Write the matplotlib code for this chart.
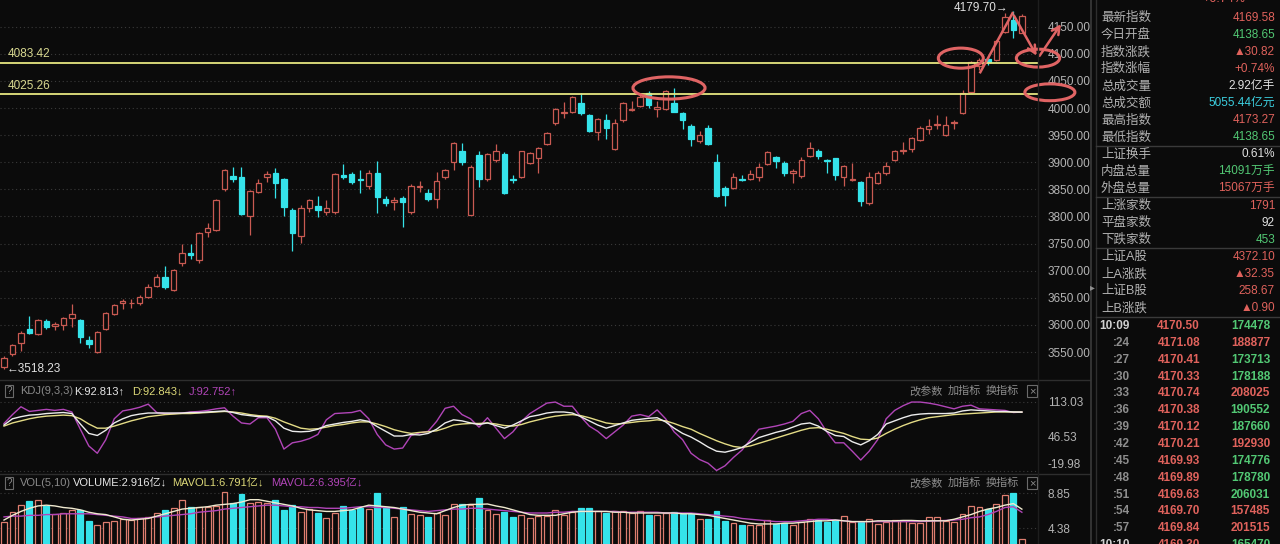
# ============================================================
# SSE index daily K-line screenshot: candles, KDJ, VOL, quote panel
# ============================================================

import numpy as np
import matplotlib
matplotlib.use("Agg")
import matplotlib.pyplot as plt
from matplotlib.patches import Ellipse, FancyArrowPatch
from matplotlib.transforms import blended_transform_factory

plt.rcParams["font.family"] = ["Liberation Sans", "Noto Sans CJK SC", "DejaVu Sans"]

# ============================================================
# DATA
# ============================================================

opens = [3522, 3546, 3566, 3593, 3583, 3608, 3598, 3599, 3613, 3609,
         3572, 3550, 3592, 3620, 3641, 3640, 3640, 3651, 3672, 3688,
         3665, 3715, 3733, 3720, 3772, 3775, 3851, 3875, 3872, 3800,
         3846, 3872, 3881, 3869, 3811, 3764, 3816, 3819, 3809, 3809,
         3876, 3878, 3870, 3856, 3880, 3833, 3826, 3834, 3808, 3854,
         3843, 3832, 3872, 3901, 3920, 3803, 3913, 3870, 3904, 3915,
         3870, 3873, 3899, 3907, 3934, 3972, 3990, 3992, 4010, 3987,
         3956, 3977, 3924, 3977, 3996, 4004, 4027, 3999, 3999, 4010,
         3991, 3966, 3940, 3964, 3901, 3852, 3852, 3870, 3869, 3873,
         3897, 3910, 3898, 3880, 3875, 3911, 3921, 3904, 3907, 3872,
         3868, 3864, 3824, 3861, 3881, 3904, 3920, 3924, 3941, 3961,
         3968, 3950, 3972, 3990, 4030, 4078, 4090, 4089, 4141, 4162,
         4138.65]

highs = [3542, 3565, 3589, 3616, 3611, 3610, 3605, 3615, 3638, 3611,
         3580, 3588, 3623, 3638, 3647, 3647, 3656, 3675, 3693, 3709,
         3703, 3749, 3750, 3771, 3788, 3832, 3888, 3891, 3891, 3849,
         3870, 3883, 3889, 3871, 3815, 3821, 3833, 3838, 3830, 3880,
         3897, 3882, 3886, 3886, 3903, 3838, 3836, 3838, 3860, 3866,
         3851, 3882, 3888, 3938, 3936, 3894, 3921, 3917, 3934, 3919,
         3876, 3921, 3919, 3928, 3955, 4000, 4012, 4022, 4027, 3989,
         3981, 3989, 3979, 4012, 4013, 4028, 4031, 4013, 4034, 4036,
         3993, 3971, 3957, 3969, 3915, 3857, 3880, 3876, 3886, 3899,
         3920, 3912, 3903, 3888, 3910, 3938, 3924, 3906, 3908, 3895,
         3899, 3866, 3882, 3884, 3901, 3923, 3938, 3947, 3966, 3979,
         3987, 3985, 3978, 4033, 4087, 4092, 4094, 4126, 4175, 4179.70,
         4173.27]

lows = [3518.23, 3543, 3552, 3584, 3582, 3592, 3591, 3591, 3597, 3567,
        3558, 3548, 3590, 3618, 3630, 3632, 3636, 3649, 3670, 3666,
        3663, 3708, 3722, 3715, 3762, 3773, 3847, 3864, 3802, 3766,
        3843, 3864, 3834, 3800, 3737, 3751, 3808, 3799, 3803, 3805,
        3870, 3860, 3843, 3850, 3806, 3820, 3811, 3780, 3805, 3846,
        3828, 3816, 3869, 3886, 3895, 3802, 3854, 3866, 3901, 3841,
        3862, 3871, 3897, 3881, 3932, 3968, 3981, 3990, 3988, 3956,
        3941, 3942, 3922, 3975, 3995, 4002, 4000, 3984, 3997, 3993,
        3962, 3930, 3935, 3932, 3836, 3819, 3850, 3866, 3867, 3866,
        3895, 3890, 3874, 3862, 3871, 3909, 3906, 3881, 3867, 3856,
        3866, 3819, 3822, 3859, 3876, 3902, 3916, 3918, 3940, 3952,
        3962, 3949, 3962, 3989, 4028, 4070, 4080, 4086, 4138, 4130,
        4138.65]

closes = [3539, 3563, 3585, 3586, 3609, 3597, 3602, 3613, 3620, 3578,
          3565, 3587, 3622, 3637, 3644, 3641, 3652, 3670, 3689, 3669,
          3701, 3732, 3729, 3769, 3779, 3830, 3886, 3870, 3804, 3847,
          3862, 3878, 3862, 3818, 3770, 3816, 3830, 3811, 3816, 3878,
          3872, 3864, 3867, 3880, 3835, 3824, 3831, 3826, 3856, 3856,
          3832, 3866, 3886, 3936, 3901, 3892, 3870, 3915, 3920, 3844,
          3868, 3920, 3917, 3926, 3953, 3999, 3993, 4020, 3990, 3958,
          3979, 3964, 3972, 4010, 3999, 4021, 4006, 4002, 4032, 3993,
          3977, 3942, 3950, 3934, 3838, 3840, 3873, 3867, 3878, 3891,
          3918, 3903, 3881, 3883, 3905, 3927, 3911, 3902, 3876, 3893,
          3870, 3829, 3873, 3880, 3893, 3920, 3923, 3944, 3963, 3966,
          3970, 3969, 3974, 4028, 4085, 4088, 4084, 4124, 4168, 4143,
          4169.58]

# volume in 亿
volumes = [5.18, 6.46, 7.32, 7.83, 7.96, 7.19, 6.17, 6.33, 6.68, 6.68,
           5.27, 4.76, 5.18, 5.31, 5.49, 5.40, 5.62, 5.82, 6.33, 6.68,
           6.90, 7.96, 7.10, 7.10, 7.10, 7.19, 8.94, 7.53, 8.72, 7.61,
           7.74, 7.61, 7.96, 6.68, 7.32, 6.46, 6.77, 6.26, 5.62, 6.33,
           7.19, 6.68, 6.90, 6.77, 8.81, 7.10, 5.82, 7.10, 6.17, 6.04,
           5.82, 6.26, 6.04, 7.45, 7.45, 7.36, 8.21, 6.64, 6.17, 6.38,
           5.78, 6.08, 5.66, 5.87, 5.87, 6.64, 6.00, 6.38, 6.93, 6.93,
           6.51, 6.30, 6.59, 6.59, 6.30, 6.51, 6.08, 6.08, 6.30, 6.42,
           6.17, 6.17, 5.53, 5.57, 6.51, 5.23, 5.02, 4.80, 4.80, 4.80,
           5.44, 4.89, 5.02, 4.80, 5.15, 5.57, 5.44, 5.15, 5.36, 5.87,
           5.18, 5.18, 5.49, 4.89, 5.18, 5.40, 5.31, 5.05, 5.05, 5.75,
           5.82, 5.31, 5.18, 6.17, 7.19, 7.02, 6.77, 7.45, 8.59, 8.89,
           2.916]

mavol1 = [5.4, 6.0, 6.5, 6.9, 7.2, 7.3, 7.2, 7.0, 6.9, 6.7,
          6.4, 6.2, 6.1, 5.8, 5.5, 5.4, 5.5, 5.6, 5.9, 6.2,
          6.5, 6.8, 6.9, 7.0, 7.1, 7.3, 7.4, 7.5, 7.7, 8.0,
          8.0, 7.8, 7.6, 7.4, 7.2, 6.9, 6.7, 6.6, 6.5, 6.5,
          6.6, 6.7, 7.0, 7.3, 7.2, 7.1, 7.0, 6.8, 6.6, 6.4,
          6.3, 6.2, 6.6, 7.0, 7.3, 7.4, 7.4, 7.45, 7.2, 7.0,
          6.7, 6.4, 6.1, 6.0, 6.0, 6.0, 6.2, 6.4, 6.5, 6.5,
          6.5, 6.5, 6.4, 6.4, 6.3, 6.3, 6.3, 6.3, 6.3, 6.3,
          6.2, 6.2, 6.1, 6.0, 5.8, 5.6, 5.4, 5.2, 5.0, 4.9,
          4.9, 4.9, 5.0, 5.0, 5.1, 5.2, 5.3, 5.3, 5.4, 5.3,
          5.2, 5.2, 5.2, 5.3, 5.3, 5.3, 5.35, 5.35, 5.3, 5.3,
          5.3, 5.3, 5.5, 5.8, 6.1, 6.5, 6.8, 7.0, 7.3, 7.5,
          6.791]

mavol2 = [5.8, 5.9, 5.9, 6.0, 6.0, 6.1, 6.1, 6.2, 6.2, 6.2,
          6.2, 6.1, 6.0, 5.9, 5.8, 5.6, 5.6, 5.7, 5.8, 5.9,
          6.0, 6.1, 6.2, 6.4, 6.5, 6.6, 6.8, 6.9, 7.0, 7.1,
          7.2, 7.3, 7.3, 7.2, 7.1, 7.1, 7.0, 7.0, 6.9, 6.9,
          6.9, 7.0, 7.1, 7.1, 7.0, 7.0, 6.9, 6.8, 6.7, 6.6,
          6.5, 6.6, 6.7, 6.8, 6.8, 6.9, 6.9, 6.8, 6.7, 6.6,
          6.5, 6.4, 6.3, 6.3, 6.3, 6.4, 6.4, 6.5, 6.5, 6.5,
          6.5, 6.5, 6.5, 6.4, 6.4, 6.4, 6.4, 6.4, 6.3, 6.3,
          6.3, 6.3, 6.2, 6.1, 6.0, 5.9, 5.8, 5.6, 5.5, 5.4,
          5.3, 5.2, 5.2, 5.2, 5.3, 5.4, 5.5, 5.5, 5.4, 5.3,
          5.2, 5.2, 5.2, 5.2, 5.2, 5.2, 5.2, 5.2, 5.2, 5.25,
          5.3, 5.35, 5.4, 5.5, 5.7, 5.8, 6.1, 6.5, 7.0, 7.1,
          6.395]

kdj_k = [68, 80, 84, 87, 88, 90, 91, 92, 90, 70,
         52, 48, 58, 72, 80, 86, 89, 91, 91, 91,
         91, 91, 92, 92, 93, 94, 95, 92, 88, 86,
         84, 84, 76, 62, 56, 55, 56, 60, 67, 70,
         73, 75, 78, 75, 65, 56, 47, 47, 50, 49,
         52, 60, 72, 78, 76, 72, 69, 72, 67, 62,
         68, 76, 84, 87, 91, 93, 93, 91, 84, 76,
         68, 62, 67, 72, 77, 79, 81, 82, 74, 62,
         52, 45, 36, 26, 18, 16, 20, 25, 35, 44,
         49, 54, 58, 64, 70, 72, 66, 56, 48, 46,
         36, 30, 38, 50, 70, 76, 82, 87, 89, 90,
         90, 90, 91, 95, 97, 96, 95, 94, 94, 93,
         92.813]

kdj_d = [66, 72, 76, 80, 83, 85, 86, 87, 86, 80,
         70, 62, 62, 66, 71, 76, 80, 84, 86, 88,
         89, 90, 90, 91, 92, 93, 94, 93, 91, 88,
         86, 85, 81, 74, 68, 62, 60, 61, 64, 67,
         69, 72, 74, 74, 70, 65, 59, 55, 52, 54,
         55, 57, 62, 68, 70, 71, 71, 72, 70, 67,
         66, 69, 74, 78, 82, 85, 87, 88, 86, 82,
         77, 72, 70, 71, 73, 75, 76, 78, 76, 71,
         65, 60, 52, 45, 38, 32, 27, 25, 28, 33,
         38, 43, 48, 53, 58, 62, 63, 60, 56, 52,
         46, 41, 40, 43, 52, 60, 67, 73, 78, 82,
         84, 86, 88, 89, 90, 91, 92, 93, 93, 93,
         92.843]

kdj_j = [71, 88, 103, 94, 96, 98, 96, 98, 93, 60,
         28, 14, 40, 80, 95, 98, 102, 108, 92, 90,
         90, 91, 93, 94, 96, 99, 101, 85, 72, 70,
         82, 82, 60, 22, 34, 37, 42, 50, 78, 90,
         91, 92, 96, 80, 50, 30, 22, 24, 48, 53,
         56, 75, 100, 104, 88, 80, 64, 82, 62, 42,
         55, 75, 90, 100, 110, 112, 104, 104, 84, 66,
         56, 42, 55, 68, 85, 88, 84, 97, 80, 55,
         40, 14, 2, -5, -19, -10, 6, 20, 40, 60,
         63, 66, 70, 75, 90, 96, 80, 55, 34, 34,
         18, 1, 18, 40, 80, 96, 105, 112, 112, 110,
         107, 103, 99, 104, 106, 99, 98, 97, 96, 92,
         92.752]

price_ticks = [3550, 3600, 3650, 3700, 3750, 3800, 3850, 3900,
               3950, 4000, 4050, 4100, 4150]
kdj_ticks = [113.03, 46.53, -19.98]
vol_ticks = [8.85, 4.38]
key_levels = [4083.42, 4025.26]

info_labels = ["最新指数", "今日开盘", "指数涨跌", "指数涨幅", "总成交量", "总成交额",
               "最高指数", "最低指数", "上证换手", "内盘总量", "外盘总量", "上涨家数",
               "平盘家数", "下跌家数", "上证A股", "上A涨跌", "上证B股", "上B涨跌"]
info_values = ["4169.58", "4138.65", "▲30.82", "+0.74%", "2.92亿手", "5055.44亿元",
               "4173.27", "4138.65", "0.61%", "14091万手", "15067万手", "1791",
               "92", "453", "4372.10", "▲32.35", "258.67", "▲0.90"]
info_kind = ["r", "g", "r", "r", "w", "c", "r", "g", "w", "g", "r", "r",
             "w", "g", "r", "r", "r", "r"]

tick_times = ["10:09", ":24", ":27", ":30", ":33", ":36", ":39", ":42",
              ":45", ":48", ":51", ":54", ":57", "10:10"]
tick_prices = [4170.50, 4171.08, 4170.41, 4170.33, 4170.74, 4170.38, 4170.12,
               4170.21, 4169.93, 4169.89, 4169.63, 4169.70, 4169.84, 4169.30]
tick_vols = [174478, 188877, 173713, 178188, 208025, 190552, 187660,
             192930, 174776, 178780, 206031, 157485, 201515, 165470]
tick_kind = ["g", "r", "g", "g", "r", "g", "g", "r", "g", "g", "g", "r", "r", "g"]

# ============================================================
# STYLE
# ============================================================

W, H = 1280, 544
BG = "#0b0b0b"
RED = "#c95a52"
RED_VOL = "#df7e70"
CYAN = "#35e3ea"
YELLOW = "#e6e680"
MAGENTA = "#b145b8"
GRID = "#3a3a3a"
TICK = "#b4b4b4"
SEP = "#2e2e2e"
MARK = "#e06464"
TEXT_COLORS = {"r": "#e0625c", "g": "#52c874", "w": "#e2e2e2", "c": "#3ccfe0"}

fig = plt.figure(figsize=(W / 100, H / 100), dpi=100, facecolor=BG)


def px_axes(left, top, right, bottom):
    return fig.add_axes([left / W, 1 - bottom / H,
                         (right - left) / W, (bottom - top) / H])


def dark(ax):
    ax.set_facecolor(BG)
    for s in ax.spines.values():
        s.set_visible(False)
    ax.set_xticks([])
    ax.yaxis.tick_right()
    ax.tick_params(axis="y", length=0, pad=7, labelcolor=TICK, labelsize=8.5)


n = len(closes)
x = np.arange(n)
o = np.array(opens, dtype=float)
c = np.array(closes, dtype=float)
up = c >= o
XLIM = (-0.47, 121.9)

# ============================================================
# PRICE PANEL
# ============================================================

ax = px_axes(0, 0, 1038, 380)
dark(ax)
ax.set_xlim(*XLIM)
ax.set_ylim(3498.4, 4199.2)

for t in price_ticks:
    ax.axhline(t, color=GRID, lw=0.8, ls=(0, (1, 2.5)), zorder=0)
ax.set_yticks(price_ticks)
ax.set_yticklabels([f"{t:.2f}" for t in price_ticks])

edge = np.where(up, RED, CYAN)
face = np.where(up, BG, CYAN)
ax.vlines(x, lows, highs, colors=edge, lw=0.9, zorder=2)
ax.bar(x, np.maximum(np.abs(c - o), 1.0), bottom=np.minimum(o, c), width=0.64,
       color=face, edgecolor=edge, linewidth=0.9, zorder=3)

blend = blended_transform_factory(ax.transAxes, ax.transData)
for lvl in key_levels:
    ax.axhline(lvl, color=YELLOW, lw=1.3, zorder=4)
    ax.annotate(f"{lvl:.2f}", (0.007, lvl), xycoords=blend,
                xytext=(0, 2), textcoords="offset points",
                color="#d8d890", fontsize=8.5, va="bottom", ha="left")

i_hi = int(np.argmax(highs))
i_lo = int(np.argmin(lows))
ax.annotate(f"{highs[i_hi]:.2f}→", (i_hi, highs[i_hi]), xytext=(-4, 2),
            textcoords="offset points", ha="right", va="center",
            color="#e0e0e0", fontsize=8.5)
ax.annotate(f"←{lows[i_lo]:.2f}", (i_lo, lows[i_lo]), xytext=(2, 0),
            textcoords="offset points", ha="left", va="center",
            color="#e0e0e0", fontsize=8.5)

# hand-drawn red marks
for cx, cy, ew, eh in [(112.8, 4092, 5.3, 37), (121.9, 4092, 5.1, 33),
                       (123.3, 4029, 5.9, 31), (78.4, 4037, 8.5, 41)]:
    ax.add_patch(Ellipse((cx, cy), ew, eh, fill=False, ec=MARK, lw=2.2,
                         clip_on=False, zorder=6))
ax.plot([115.1, 118.9], [4066, 4175], color=MARK, lw=1.8, clip_on=False, zorder=6)
for (x0, y0), (x1, y1) in [((118.9, 4175), (121.9, 4092)),
                           ((121.9, 4092), (124.8, 4159))]:
    ax.add_patch(FancyArrowPatch((x0, y0), (x1, y1), arrowstyle="->",
                                 mutation_scale=14, color=MARK, lw=1.8,
                                 clip_on=False, zorder=6))

# ============================================================
# KDJ PANEL
# ============================================================

ax_k = px_axes(0, 380, 1038, 474)
dark(ax_k)
ax_k.set_xlim(*XLIM)
ax_k.set_ylim(-25.7, 154.2)
for t in [kdj_ticks[0], kdj_ticks[2]]:
    ax_k.axhline(t, color=GRID, lw=0.8, ls=(0, (1, 2.5)), zorder=0)
ax_k.set_yticks(kdj_ticks)
ax_k.set_yticklabels([f"{t:.2f}" for t in kdj_ticks])
ax_k.get_yticklabels()[-1].set_va("bottom")
ax_k.plot(x, kdj_j, color=MAGENTA, lw=1.0)
ax_k.plot(x, kdj_d, color="#e4dc86", lw=1.0)
ax_k.plot(x, kdj_k, color="#ececec", lw=1.0)

# ============================================================
# VOLUME PANEL
# ============================================================

ax_v = px_axes(0, 474, 1038, 544)
dark(ax_v)
ax_v.set_xlim(*XLIM)
ax_v.set_ylim(2.34, 11.28)
for t in vol_ticks:
    ax_v.axhline(t, color=GRID, lw=0.8, ls=(0, (1, 2.5)), zorder=0)
ax_v.set_yticks(vol_ticks)
ax_v.set_yticklabels([f"{t:.2f}" for t in vol_ticks])
vedge = np.where(up, RED_VOL, CYAN)
vface = np.where(up, BG, CYAN)
ax_v.bar(x, volumes, width=0.7, color=vface, edgecolor=vedge, linewidth=0.9, zorder=2)
ax_v.plot(x, mavol2, color=MAGENTA, lw=1.0, zorder=3)
ax_v.plot(x, mavol1, color="#f0ead0", lw=1.0, zorder=3)

# ============================================================
# OVERLAY: separators, headers, quote panel
# ============================================================

ov = fig.add_axes([0, 0, 1, 1], zorder=10)
ov.set_xlim(0, W)
ov.set_ylim(H, 0)
ov.axis("off")
ov.patch.set_alpha(0)

for yy in (380, 474):
    ov.plot([0, 1090], [yy, yy], color=SEP, lw=1)
ov.plot([1038, 1038], [0, H], color="#1e1e1e", lw=1)
ov.plot([1091, 1091], [0, H], color="#3a3a3a", lw=1.2)
ov.plot([1096, 1096], [0, H], color=SEP, lw=1)
ov.text(1092, 287, "▸", color="#909090", fontsize=7, ha="center", va="center")

box = dict(boxstyle="square,pad=0.12", fc="none", ec="#6a6a6a", lw=0.8)
for yy, parts in [
    (391, [(20, "KDJ(9,3,3)", "#8a8a8a"), (74, "K:92.813↑", "#e6e6e6"),
           (132, "D:92.843↓", "#dcd878"), (189, "J:92.752↑", MAGENTA)]),
    (483, [(20, "VOL(5,10)", "#8a8a8a"), (73, "VOLUME:2.916亿↓", "#e6e6e6"),
           (172, "MAVOL1:6.791亿↓", "#dcd878"), (271, "MAVOL2:6.395亿↓", MAGENTA)]),
]:
    ov.text(9, yy, "?", color="#8a8a8a", fontsize=7, ha="center", va="center", bbox=box)
    for xx, s, col in parts:
        ov.text(xx, yy, s, color=col, fontsize=8, ha="left", va="center")
    for xx, s in [(926, "改参数"), (964, "加指标"), (1002, "换指标")]:
        ov.text(xx, yy, s, color="#8c8c8c", fontsize=8, ha="center", va="center")
    ov.text(1032, yy, "×", color="#8c8c8c", fontsize=8, ha="center", va="center", bbox=box)

# quote panel
ov.text(1224, -1, "+0.74%", color=TEXT_COLORS["r"], fontsize=9, ha="center", va="center")
for k, (lab, val, kind) in enumerate(zip(info_labels, info_values, info_kind)):
    yy = 18 + k * 17.06
    ov.text(1101, yy, lab, color="#b2b2b2", fontsize=9, ha="left", va="center")
    ov.text(1275, yy, val, color=TEXT_COLORS[kind], fontsize=8.5, ha="right", va="center")
for yy in (146, 197, 248, 317):
    ov.plot([1096, W], [yy, yy], color="#3a3a3a", lw=1)

for k, (tm, pr, vo, kind) in enumerate(zip(tick_times, tick_prices, tick_vols, tick_kind)):
    yy = 326 + k * 16.85
    ov.text(1130, yy, tm, color="#d0d0d0" if tm.startswith("10") else "#8e8e8e",
            fontsize=8.5, ha="right", va="center", weight="bold")
    ov.text(1200, yy, f"{pr:.2f}", color=TEXT_COLORS["r"], fontsize=8.5,
            ha="right", va="center", weight="bold")
    ov.text(1270, yy, str(vo), color=TEXT_COLORS[kind], fontsize=8.5,
            ha="right", va="center", weight="bold")

fig.savefig("out.png", dpi=100, facecolor=BG)
